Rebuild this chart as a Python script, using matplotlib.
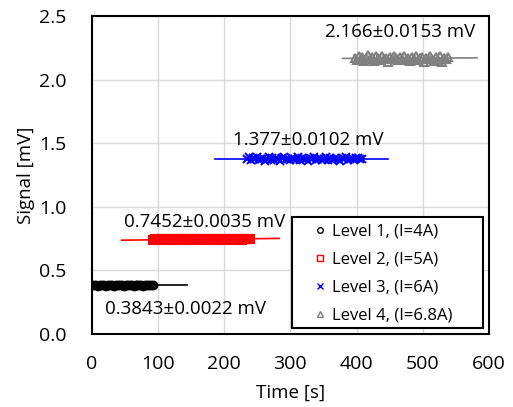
import numpy as np
import matplotlib.pyplot as plt
from matplotlib.patches import Rectangle

plt.rcParams['font.family'] = ['Open Sans', 'DejaVu Sans']
plt.rcParams['font.size'] = 13.5

# measured signal per level (sampled every 3 s)
lvl1_start = 0
lvl1 = [0.386, 0.383, 0.385, 0.382, 0.384, 0.387, 0.383, 0.381, 0.385, 0.384,
        0.386, 0.382, 0.383, 0.385, 0.388, 0.384, 0.382, 0.385, 0.383, 0.386,
        0.384, 0.381, 0.385, 0.387, 0.383, 0.384, 0.382, 0.386, 0.385, 0.383,
        0.384, 0.386]
lvl2_start = 92
lvl2 = [0.742, 0.748, 0.745, 0.741, 0.747, 0.744, 0.750, 0.743, 0.746, 0.740,
        0.749, 0.745, 0.742, 0.747, 0.744, 0.751, 0.746, 0.743, 0.748, 0.741,
        0.745, 0.749, 0.744, 0.747, 0.742, 0.746, 0.750, 0.743, 0.745, 0.748,
        0.741, 0.746, 0.744, 0.749, 0.743, 0.747, 0.745, 0.742, 0.748, 0.746,
        0.744, 0.750, 0.743, 0.747, 0.745, 0.741, 0.748, 0.746, 0.744, 0.747]
lvl3_start = 234
lvl3 = [1.375, 1.388, 1.366, 1.381, 1.372, 1.392, 1.369, 1.379, 1.384, 1.363,
        1.377, 1.390, 1.371, 1.382, 1.368, 1.386, 1.374, 1.361, 1.380, 1.393,
        1.373, 1.378, 1.365, 1.387, 1.376, 1.370, 1.389, 1.367, 1.383, 1.374,
        1.379, 1.362, 1.385, 1.372, 1.391, 1.369, 1.378, 1.381, 1.364, 1.376,
        1.388, 1.371, 1.383, 1.367, 1.379, 1.386, 1.373, 1.360, 1.382, 1.377,
        1.390, 1.368, 1.375, 1.384, 1.366, 1.380, 1.387, 1.372, 1.378]
lvl4_start = 397
lvl4 = [2.170, 2.152, 2.185, 2.163, 2.178, 2.148, 2.169, 2.190, 2.158, 2.174,
        2.143, 2.181, 2.166, 2.155, 2.187, 2.161, 2.172, 2.140, 2.176, 2.159,
        2.183, 2.167, 2.150, 2.179, 2.164, 2.188, 2.156, 2.171, 2.146, 2.177,
        2.162, 2.184, 2.153, 2.168, 2.180, 2.141, 2.173, 2.160, 2.186, 2.165,
        2.149, 2.175, 2.157, 2.182, 2.139, 2.170, 2.163, 2.178]
dt = 3

# fitted trend lines (start/end time, start/end value)
fit_x = [[0, 144], [45, 283], [186, 447], [379, 582]]
fit_y = [[0.3843, 0.3843], [0.738, 0.752], [1.377, 1.377], [2.166, 2.170]]

labels = ['Level 1, (I=4A)', 'Level 2, (I=5A)', 'Level 3, (I=6A)', 'Level 4, (I=6.8A)']
notes = ['0.3843±0.0022 mV', '0.7452±0.0035 mV', '1.377±0.0102 mV', '2.166±0.0153 mV']
note_xy = [(20, 0.20), (48, 0.88), (213, 1.525), (352, 2.37)]

colors = ['black', 'red', 'blue', 'gray']
markers = ['o', 's', 'x', '^']

fig = plt.figure(figsize=(5.13, 4.07), dpi=100)
ax = fig.add_axes([0.179, 0.179, 0.774, 0.782])

series = [(lvl1_start, lvl1), (lvl2_start, lvl2), (lvl3_start, lvl3), (lvl4_start, lvl4)]
for i, (t0, vals) in enumerate(series):
    t = t0 + dt * np.arange(len(vals))
    if markers[i] == 'x':
        ax.plot(t, vals, linestyle='none', marker='x', ms=6, mew=1.4,
                color=colors[i], label=labels[i])
    else:
        ax.plot(t, vals, linestyle='none', marker=markers[i], ms=5.5, mew=1.5,
                mfc='none', mec=colors[i], label=labels[i])
    ax.plot(fit_x[i], fit_y[i], color=colors[i], lw=1.2)
    ax.text(note_xy[i][0], note_xy[i][1], notes[i], ha='left', va='center', fontsize=13.5)

ax.set_xlim(0, 600)
ax.set_ylim(0, 2.5)
ax.set_xticks(np.arange(0, 601, 100))
ax.set_yticks(np.arange(0, 2.51, 0.5))
ax.yaxis.set_major_formatter(plt.FormatStrFormatter('%.1f'))
ax.grid(True, color='#d9d9d9', lw=1)
ax.set_axisbelow(True)
for s in ax.spines.values():
    s.set_linewidth(1.5)
    s.set_color('black')
ax.tick_params(axis='x', length=0, pad=15, labelsize=14)
ax.tick_params(axis='y', length=0, pad=18, labelsize=14)
ax.set_xlabel('Time [s]', labelpad=8, fontsize=13.5)
ax.set_ylabel('Signal [mV]', labelpad=3, fontsize=13.5)

# legend box drawn separately so the padding matches
ax.add_patch(Rectangle((0.504, 0.019), 0.481, 0.349, transform=ax.transAxes,
                       facecolor='white', edgecolor='black', lw=1.5, zorder=5))
leg = ax.legend(loc='upper left', bbox_to_anchor=(0.562, 0.347), frameon=False,
                labelspacing=0.72, handlelength=0.6, handletextpad=0.4,
                borderpad=0, borderaxespad=0, fontsize=12)
leg.set_zorder(6)
for h in leg.legend_handles:
    h.set_markersize(4)
    h.set_markeredgewidth(1)

plt.savefig('out.png', dpi=100)
